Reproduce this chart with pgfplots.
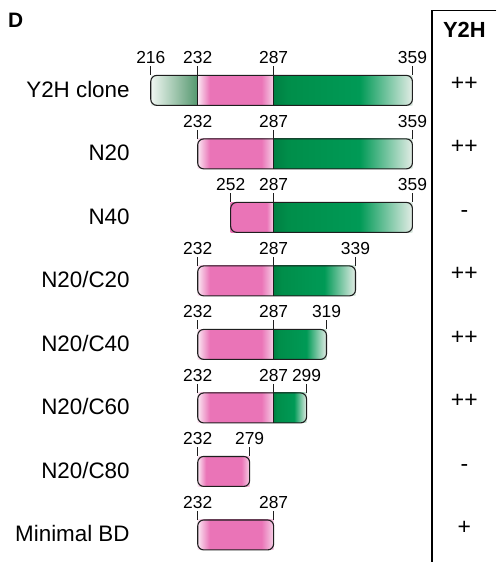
\documentclass[border=0pt]{standalone}
\usepackage{fontspec}
\setmainfont{Liberation Sans}
\usepackage{pgfplots}
\pgfplotsset{compat=1.18}

\definecolor{pinkc}{RGB}{234,116,183}
\definecolor{pinkl}{RGB}{250,230,242}
\definecolor{pinkr}{RGB}{246,208,230}
\definecolor{greend}{RGB}{0,128,66}
\definecolor{greenm}{RGB}{0,142,74}
\definecolor{greenb}{RGB}{0,154,86}
\definecolor{greenw}{RGB}{226,236,229}
\definecolor{leadl}{RGB}{240,246,242}
\definecolor{leadd}{RGB}{84,152,110}
\definecolor{edge}{RGB}{30,30,30}

\pgfdeclarehorizontalshading{pinkbar}{100bp}{color(0bp)=(pinkl); color(25bp)=(pinkl); color(33bp)=(pinkc); color(67bp)=(pinkc); color(75bp)=(pinkr); color(100bp)=(pinkr)}
\pgfdeclarehorizontalshading{pinkcut}{100bp}{color(0bp)=(pinkc); color(25bp)=(pinkc); color(67bp)=(pinkc); color(75bp)=(pinkr); color(100bp)=(pinkr)}
\pgfdeclarehorizontalshading{greenbar}{100bp}{color(0bp)=(greend); color(25bp)=(greend); color(30bp)=(greenm); color(56bp)=(greenb); color(75bp)=(greenw); color(100bp)=(greenw)}
\pgfdeclarehorizontalshading{greenlead}{100bp}{color(0bp)=(leadl); color(25bp)=(leadl); color(75bp)=(leadd); color(100bp)=(leadd)}

\begin{document}
\begin{tikzpicture}
\begin{axis}[
  scale only axis, width=497bp, height=563bp,
  xmin=65, xmax=443, ymin=0, ymax=563, y dir=reverse,
  x coord trafo/.code={%
    \pgfmathparse{(#1<216) ? (151+(#1-216)) : ((#1<232) ? (151+(#1-216)*47/16) : ((#1<252) ? (198+(#1-232)*33/20) : ((#1<279) ? (231+(#1-252)*19/27) : ((#1<287) ? (250+(#1-279)*3) : ((#1<299) ? (274+(#1-287)*33/12) : ((#1<319) ? (307+(#1-299)) : ((#1<339) ? (327+(#1-319)*29/20) : ((#1<=359) ? (356+(#1-339)*57/20) : (413+(#1-359))))))))))}},
  clip=false,
  axis line style={draw=none}, tick style={draw=none},
  xtick=\empty,
  ytick={90.5,154.1,217.7,281.3,344.9,408.5,472.1,535.7},
  yticklabels={Y2H clone,N20,N40,N20/C20,N20/C40,N20/C60,N20/C80,Minimal BD},
  ytick pos=left,
  yticklabel style={anchor=east, xshift=130bp, yshift=1bp, inner sep=0pt, font=\fontsize{22.5}{24}\selectfont, text=black},
]
% ---- segment fills ----
% Y2H clone
\addplot[draw=none, shade, shading=greenlead] coordinates {(216,75.5) (232,75.5) (232,105.5) (216,105.5)} --cycle;
\addplot[draw=none, shade, shading=pinkbar] coordinates {(232,75.5) (287,75.5) (287,105.5) (232,105.5)} --cycle;
\addplot[draw=none, shade, shading=greenbar] coordinates {(287,75.5) (359,75.5) (359,105.5) (287,105.5)} --cycle;
% N20
\addplot[draw=none, shade, shading=pinkbar] coordinates {(232,139.1) (287,139.1) (287,169.1) (232,169.1)} --cycle;
\addplot[draw=none, shade, shading=greenbar] coordinates {(287,139.1) (359,139.1) (359,169.1) (287,169.1)} --cycle;
% N40
\addplot[draw=none, shade, shading=pinkcut] coordinates {(252,202.7) (287,202.7) (287,232.7) (252,232.7)} --cycle;
\addplot[draw=none, shade, shading=greenbar] coordinates {(287,202.7) (359,202.7) (359,232.7) (287,232.7)} --cycle;
% N20/C20
\addplot[draw=none, shade, shading=pinkbar] coordinates {(232,266.3) (287,266.3) (287,296.3) (232,296.3)} --cycle;
\addplot[draw=none, shade, shading=greenbar] coordinates {(287,266.3) (339,266.3) (339,296.3) (287,296.3)} --cycle;
% N20/C40
\addplot[draw=none, shade, shading=pinkbar] coordinates {(232,329.9) (287,329.9) (287,359.9) (232,359.9)} --cycle;
\addplot[draw=none, shade, shading=greenbar] coordinates {(287,329.9) (319,329.9) (319,359.9) (287,359.9)} --cycle;
% N20/C60
\addplot[draw=none, shade, shading=pinkbar] coordinates {(232,393.5) (287,393.5) (287,423.5) (232,423.5)} --cycle;
\addplot[draw=none, shade, shading=greenbar] coordinates {(287,393.5) (299,393.5) (299,423.5) (287,423.5)} --cycle;
% N20/C80
\addplot[draw=none, shade, shading=pinkbar] coordinates {(232,457.1) (279,457.1) (279,487.1) (232,487.1)} --cycle;
% Minimal BD
\addplot[draw=none, shade, shading=pinkbar] coordinates {(232,520.7) (287,520.7) (287,550.7) (232,550.7)} --cycle;

% ---- dividers ----
\addplot[edge, line width=0.9bp, unbounded coords=jump] coordinates {
 (232,75.5) (232,105.5) (232,nan)
 (287,75.5) (287,105.5) (287,nan)
 (287,139.1) (287,169.1) (287,nan)
 (287,202.7) (287,232.7) (287,nan)
 (287,266.3) (287,296.3) (287,nan)
 (287,329.9) (287,359.9) (287,nan)
 (287,393.5) (287,423.5)
};

% ---- outlines ----
\addplot[edge, line width=1.1bp, rounded corners=6bp] coordinates {(216,75.5) (359,75.5) (359,105.5) (216,105.5)} --cycle;
\addplot[edge, line width=1.1bp, rounded corners=6bp] coordinates {(232,139.1) (359,139.1) (359,169.1) (232,169.1)} --cycle;
\addplot[edge, line width=1.1bp, rounded corners=6bp] coordinates {(252,202.7) (359,202.7) (359,232.7) (252,232.7)} --cycle;
\addplot[edge, line width=1.1bp, rounded corners=6bp] coordinates {(232,266.3) (339,266.3) (339,296.3) (232,296.3)} --cycle;
\addplot[edge, line width=1.1bp, rounded corners=6bp] coordinates {(232,329.9) (319,329.9) (319,359.9) (232,359.9)} --cycle;
\addplot[edge, line width=1.1bp, rounded corners=6bp] coordinates {(232,393.5) (299,393.5) (299,423.5) (232,423.5)} --cycle;
\addplot[edge, line width=1.1bp, rounded corners=6bp] coordinates {(232,457.1) (279,457.1) (279,487.1) (232,487.1)} --cycle;
\addplot[edge, line width=1.1bp, rounded corners=6bp] coordinates {(232,520.7) (287,520.7) (287,550.7) (232,550.7)} --cycle;

% ---- residue ticks and numbers ----
\addplot[edge, only marks, mark=|, mark size=4.5bp, mark options={line width=1.1bp},
  nodes near coords, point meta=explicit symbolic,
  every node near coord/.append style={anchor=south, inner sep=0pt, yshift=6.5bp, font=\fontsize{17.5}{18}\selectfont, text=black}]
  table[x=x, y=y, meta=x] {
x y
216 71.0
232 71.0
287 71.0
359 71.0
232 134.6
287 134.6
359 134.6
252 198.2
287 198.2
359 198.2
232 261.8
287 261.8
339 261.8
232 325.4
287 325.4
319 325.4
232 389.0
287 389.0
299 389.0
232 452.6
279 452.6
232 516.2
287 516.2
};
\end{axis}

\begin{axis}[
  scale only axis, width=497bp, height=563bp,
  xmin=0, xmax=497, ymin=0, ymax=563, y dir=reverse,
  hide axis, clip=false,
]
\addplot[black, line width=1.6bp] coordinates {(497,10.5) (432.5,10.5) (432.5,563)};
\addplot[draw=none, nodes near coords, point meta=explicit symbolic,
  every node near coord/.append style={anchor=base, inner sep=0pt, font=\fontsize{23}{24}\selectfont, text=black}]
  table[x=x, y=y, meta=lab] {
x y lab
465 90.5 ++
465 154.1 ++
465 217.7 -
465 281.3 ++
465 344.9 ++
465 408.5 ++
465 472.1 -
465 535.7 +
};
\node[anchor=base, inner sep=0pt, font=\bfseries\fontsize{22}{22}\selectfont] at (axis cs:465,38) {Y2H};
\node[anchor=north west, inner sep=0pt, font=\bfseries\fontsize{21}{21}\selectfont] at (axis cs:8,13) {D};
\end{axis}
\end{tikzpicture}
\end{document}
